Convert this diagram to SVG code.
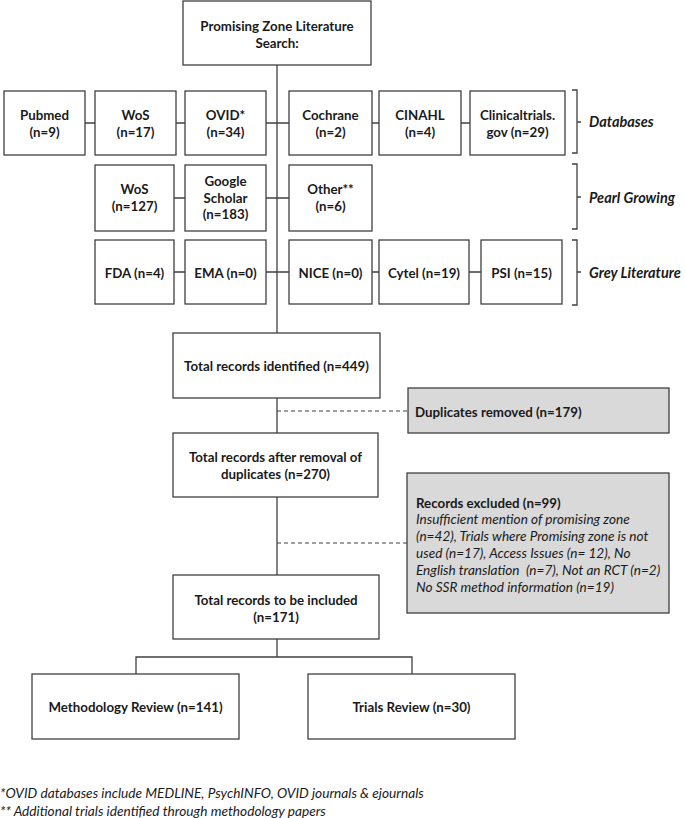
<svg xmlns="http://www.w3.org/2000/svg" width="685" height="818" viewBox="0 0 685 818">
<style>
.box{fill:#fff;stroke:#404040;stroke-width:1.3}
.gbox{fill:#d9d9d9;stroke:#404040;stroke-width:1.3}
.ln{fill:none;stroke:#404040;stroke-width:1.3}
.dash{fill:none;stroke:#404040;stroke-width:1;stroke-dasharray:4 3}
text{font-family:Lato,"Open Sans","Liberation Sans",sans-serif;fill:#1a1a1a}
.b{font-weight:bold;font-size:13.3px;text-anchor:middle}
.bl{font-weight:bold;font-size:13.3px}
.lab{font-weight:bold;font-style:italic;font-size:14.5px}
.it{font-style:italic;font-size:13.6px}
.fn{font-style:italic;font-size:13.7px}
</style>
<rect width="685" height="818" fill="#fff"/>
<g id="connectors">
<path class="ln" d="M277,65 V333 M277,398 V433 M277,497 V575 M277,639 V657 M136,674 V657 H412 V674"/>
<path class="ln" d="M85,123 H95 M176,123 H185 M266,123 H289 M372,123 H379 M461,123 H470"/>
<path class="ln" d="M174,198 H185 M266,198 H289"/>
<path class="ln" d="M174,272 H185 M266,272 H289 M372,272 H379 M469,272 H481"/>
<path class="dash" d="M277,411 H408 M277,543 H407"/>
<path class="ln" d="M572,90 H577 V153 H572 M577,122 H581"/>
<path class="ln" d="M572,164 H577 V229 H572 M577,197 H581"/>
<path class="ln" d="M572,240 H577 V305 H572 M577,272 H581"/>
</g>
<g id="search"><rect class="box" x="183" y="1" width="188" height="64"/><text class="b" x="277" y="30.5">Promising Zone Literature</text><text class="b" x="277" y="47.5">Search:</text></g>
<g id="pubmed"><rect class="box" x="4" y="91" width="81" height="64"/><text class="b" x="44.5" y="119.5">Pubmed</text><text class="b" x="44.5" y="136.5">(n=9)</text></g>
<g id="wos1"><rect class="box" x="95" y="91" width="81" height="64"/><text class="b" x="135.5" y="119.5">WoS</text><text class="b" x="135.5" y="136.5">(n=17)</text></g>
<g id="ovid"><rect class="box" x="185" y="91" width="81" height="64"/><text class="b" x="225.5" y="119.5">OVID*</text><text class="b" x="225.5" y="136.5">(n=34)</text></g>
<g id="cochrane"><rect class="box" x="289" y="91" width="83" height="64"/><text class="b" x="330.5" y="119.5">Cochrane</text><text class="b" x="330.5" y="136.5">(n=2)</text></g>
<g id="cinahl"><rect class="box" x="379" y="91" width="82" height="64"/><text class="b" x="420" y="119.5">CINAHL</text><text class="b" x="420" y="136.5">(n=4)</text></g>
<g id="clinicaltrials"><rect class="box" x="470" y="91" width="95" height="64"/><text class="b" x="517.5" y="119.5">Clinicaltrials.</text><text class="b" x="517.5" y="136.5">gov (n=29)</text></g>
<g id="label-databases"><text class="lab" x="589" y="127">Databases</text></g>
<g id="wos2"><rect class="box" x="95" y="165" width="79" height="66"/><text class="b" x="134.5" y="193.5">WoS</text><text class="b" x="134.5" y="210.5">(n=127)</text></g>
<g id="google"><rect class="box" x="185" y="165" width="81" height="66"/><text class="b" x="225.5" y="185.5">Google</text><text class="b" x="225.5" y="202.5">Scholar</text><text class="b" x="225.5" y="219">(n=183)</text></g>
<g id="other"><rect class="box" x="289" y="165" width="83" height="66"/><text class="b" x="330.5" y="193.5">Other**</text><text class="b" x="330.5" y="210.5">(n=6)</text></g>
<g id="label-pearl"><text class="lab" x="589" y="202.5">Pearl Growing</text></g>
<g id="fda"><rect class="box" x="95" y="240" width="79" height="64"/><text class="b" x="134.5" y="277.5">FDA (n=4)</text></g>
<g id="ema"><rect class="box" x="185" y="240" width="81" height="64"/><text class="b" x="225.5" y="277.5">EMA (n=0)</text></g>
<g id="nice"><rect class="box" x="289" y="240" width="83" height="64"/><text class="b" x="330.5" y="277.5">NICE (n=0)</text></g>
<g id="cytel"><rect class="box" x="379" y="240" width="90" height="64"/><text class="b" x="424" y="277.5">Cytel (n=19)</text></g>
<g id="psi"><rect class="box" x="481" y="240" width="81" height="64"/><text class="b" x="521.5" y="277.5">PSI (n=15)</text></g>
<g id="label-grey"><text class="lab" x="589" y="277.5">Grey Literature</text></g>
<g id="identified"><rect class="box" x="173" y="333" width="207" height="65"/><text class="b" x="276.5" y="370.5">Total records identified (n=449)</text></g>
<g id="duplicates"><rect class="gbox" x="408" y="388" width="261" height="45"/><text class="bl" x="415" y="416.5">Duplicates removed (n=179)</text></g>
<g id="after-removal"><rect class="box" x="173" y="433" width="205" height="64"/><text class="b" x="275.5" y="461.5">Total records after removal of</text><text class="b" x="275.5" y="478.5">duplicates (n=270)</text></g>
<g id="excluded"><rect class="gbox" x="407" y="473" width="262" height="140"/>
<text class="bl" x="416" y="507.5">Records excluded (n=99)</text>
<text class="it" x="416" y="524.3">Insufficient mention of promising zone</text>
<text class="it" x="416" y="541.1">(n=42), Trials where Promising zone is not</text>
<text class="it" x="416" y="557.9">used (n=17), Access Issues (n= 12), No</text>
<text class="it" x="416" y="574.7" xml:space="preserve">English translation  (n=7), Not an RCT (n=2)</text>
<text class="it" x="416" y="591.5">No SSR method information (n=19)</text></g>
<g id="included"><rect class="box" x="173" y="575" width="206" height="64"/><text class="b" x="276" y="604.5">Total records to be included</text><text class="b" x="276" y="621.5">(n=171)</text></g>
<g id="methodology"><rect class="box" x="32" y="674" width="207" height="65"/><text class="b" x="135.5" y="711.5">Methodology Review (n=141)</text></g>
<g id="trials"><rect class="box" x="308" y="674" width="207" height="65"/><text class="b" x="411.5" y="711.5">Trials Review (n=30)</text></g>
<g id="footnotes"><text class="fn" x="0" y="798">*OVID databases include MEDLINE, PsychINFO, OVID journals &amp; ejournals</text><text class="fn" x="0" y="816">** Additional trials identified through methodology papers</text></g>
</svg>
